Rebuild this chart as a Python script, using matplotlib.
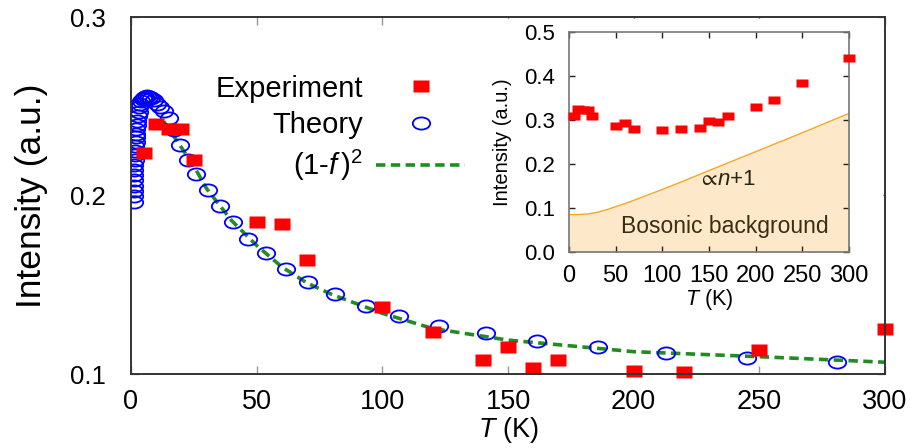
import numpy as np
import matplotlib
matplotlib.use("Agg")
import matplotlib.pyplot as plt
from matplotlib.path import Path
from matplotlib.patches import Rectangle

plt.rcParams['font.family'] = ['Liberation Sans', 'DejaVu Sans']
plt.rcParams['mathtext.fontset'] = 'custom'
plt.rcParams['mathtext.rm'] = 'Liberation Sans'
plt.rcParams['mathtext.it'] = 'Liberation Sans:italic'
plt.rcParams['mathtext.bf'] = 'Liberation Sans:bold'
plt.rcParams['mathtext.fallback'] = 'stixsans'

# ---------------- data ----------------
# Main panel: experiment (background subtracted)
exp_T = [5, 10, 15, 20, 25, 50, 60, 70, 100, 120, 140, 150, 160, 170, 200, 220, 250, 300]
exp_I = [0.224, 0.240, 0.237, 0.237, 0.220, 0.185, 0.184, 0.164, 0.1374, 0.1234,
         0.1077, 0.1153, 0.1032, 0.1078, 0.1019, 0.1013, 0.1134, 0.125]

# Main panel: theory
theory_T = [1.0, 1.05, 1.1, 1.15, 1.2, 1.25, 1.3, 1.35, 1.4, 1.5, 1.6, 1.7, 1.8, 1.9,
            2.0, 2.15, 2.3, 2.5, 2.7, 3.0, 3.3, 3.7, 4.1, 4.6, 5.1, 5.7, 6.4, 7.2,
            8.1, 9.1, 10.3, 11.6, 13.1, 15.0, 17.2, 19.6, 22.6, 26.0, 30.8, 35.4,
            40.5, 46.7, 53.6, 61.6, 70.6, 81.2, 93.4, 106.8, 122.7, 141.1, 161.7,
            186.0, 213.0, 245.0, 281.0]
theory_I = [0.1964, 0.1995, 0.2025, 0.2055, 0.2085, 0.2115, 0.2145, 0.2172, 0.2198,
            0.2225, 0.2252, 0.2278, 0.2302, 0.2325, 0.2347, 0.2372, 0.2395, 0.2420,
            0.2445, 0.2470, 0.2493, 0.2513, 0.2528, 0.2540, 0.2548, 0.2553, 0.2555,
            0.2553, 0.2547, 0.2535, 0.2515, 0.2495, 0.2472, 0.2435, 0.2365, 0.2285,
            0.2200, 0.2120, 0.2030, 0.1940, 0.1850, 0.1756, 0.1676, 0.1590, 0.1517,
            0.1446, 0.1380, 0.1325, 0.1270, 0.1228, 0.1187, 0.1150, 0.1120, 0.1091,
            0.1066]

# Main panel: (1-f)^2
f_T = [13, 15, 20, 25, 30, 40, 50, 60, 70, 80, 100, 120, 150, 200, 250, 300]
f_I = [0.2415, 0.2375, 0.227, 0.2165, 0.204, 0.186, 0.172, 0.160, 0.151, 0.1445,
       0.134, 0.1255, 0.119, 0.1125, 0.1097, 0.1066]

# Inset: raw intensity
inset_T = [5, 10, 15, 20, 25, 50, 60, 70, 100, 120, 140, 150, 160, 170, 200, 220, 250, 300]
inset_I = [0.310, 0.3245, 0.323, 0.323, 0.308, 0.287, 0.294, 0.280, 0.278, 0.280,
           0.282, 0.2985, 0.2956, 0.308, 0.330, 0.346, 0.385, 0.442]

# Inset: bosonic background  (proportional to n+1)
bg_T = [0, 10, 20, 30, 40, 50, 60, 70, 80, 100, 120, 150, 200, 250, 300]
bg_I = [0.085, 0.085, 0.0865, 0.090, 0.096, 0.103, 0.110, 0.118, 0.126, 0.142,
        0.159, 0.185, 0.228, 0.271, 0.315]

main_xticks = [0, 50, 100, 150, 200, 250, 300]
main_yticks = [0.1, 0.2, 0.3]
inset_xticks = [0, 50, 100, 150, 200, 250, 300]
inset_yticks = [0.0, 0.1, 0.2, 0.3, 0.4, 0.5]

# ---------------- markers ----------------
def rect_marker(aspect):
    return Path([(-1, -aspect), (1, -aspect), (1, aspect), (-1, aspect), (-1, -aspect)],
                [Path.MOVETO, Path.LINETO, Path.LINETO, Path.LINETO, Path.CLOSEPOLY])

def ellipse_marker(aspect):
    c = Path.unit_circle()
    v = c.vertices.copy()
    v[:, 1] *= aspect
    return Path(v, c.codes)

sq_main = rect_marker(0.70)
ell_main = ellipse_marker(0.70)
sq_inset = rect_marker(0.78)

W, H = 915, 448
fig = plt.figure(figsize=(W / 100, H / 100), dpi=100)

def fx(px):
    return px / W

def fy(py):
    return 1 - py / H

ax = fig.add_axes([fx(131), fy(374), fx(885) - fx(131), fy(17) - fy(374)])
ax.set_zorder(0)

ax.plot(f_T, f_I, color='#228B22', lw=2.6, dashes=(2.6, 1.5), zorder=1.8,
        label=r'(1-$f\,$)$^2$')
ax.plot(theory_T, theory_I, ls='none', marker=ell_main, markersize=12.5,
        markerfacecolor='none', markeredgecolor='#0000ff', markeredgewidth=1.3,
        zorder=1.9, label='Theory')
ax.plot(exp_T, exp_I, ls='none', marker=sq_main, markersize=12,
        markerfacecolor='#ff0000', markeredgecolor='none', zorder=2.0,
        clip_on=False, label='Experiment')

ax.set_xlim(0, 300)
ax.set_ylim(0.1, 0.3)
ax.set_xticks(main_xticks)
ax.set_yticks(main_yticks)
ax.set_yticklabels([f'{v:.1f}' for v in main_yticks])
ax.tick_params(axis='both', direction='in', length=6, width=1, color='#999999',
               top=True, right=True)
ax.tick_params(axis='x', labelsize=19.5, pad=11)
ax.tick_params(axis='y', labelsize=18.5, pad=18)
for s in ax.spines.values():
    s.set_color('#333333')
    s.set_linewidth(1.4)
ax.set_xlabel(r'$T$ (K)', fontsize=19.5, labelpad=0)
ax.set_ylabel('Intensity (a.u.)', fontsize=25.5, labelpad=16)

handles, labels = ax.get_legend_handles_labels()
order = [2, 1, 0]
leg = ax.legend([handles[i] for i in order], [labels[i] for i in order],
                loc='center right', bbox_to_anchor=(fx(466), fy(129)),
                bbox_transform=fig.transFigure, frameon=False, markerfirst=False,
                fontsize=21, handlelength=3.1, handletextpad=0.42,
                labelspacing=0.3, borderpad=0, borderaxespad=0, numpoints=1)
leg.set_zorder(2.05)

# white box behind the inset
box = Rectangle((fx(465), fy(312)), fx(883) - fx(465), fy(19) - fy(312),
                transform=fig.transFigure, facecolor='white', edgecolor='none',
                zorder=2.2)
ax.add_patch(box)
box.set_clip_on(False)

# ---------------- inset ----------------
ins = fig.add_axes([fx(569), fy(252), fx(849) - fx(569), fy(32) - fy(252)])
ins.set_zorder(3)
ins.fill_between(bg_T, 0, bg_I, color='#fde9c9', lw=0, zorder=1)
ins.plot(bg_T, bg_I, color='#f5a623', lw=1.0, zorder=1.5)
ins.plot(inset_T, inset_I, ls='none', marker=sq_inset, markersize=8.2,
         markerfacecolor='#ff0000', markeredgecolor='none', zorder=3, clip_on=False)
ins.set_xlim(0, 300)
ins.set_ylim(0, 0.5)
ins.set_xticks(inset_xticks)
ins.set_yticks(inset_yticks)
ins.set_yticklabels([f'{v:.1f}' for v in inset_yticks])
ins.tick_params(axis='both', direction='in', length=4, width=1, color='#222222',
                top=True, right=True)
ins.tick_params(axis='x', labelsize=17, pad=9)
ins.tick_params(axis='y', labelsize=16, pad=10)
for s in ins.spines.values():
    s.set_color('#777777')
    s.set_linewidth(1.2)
ins.set_xlabel(r'$T$ (K)', fontsize=15.5, labelpad=0)
ins.set_ylabel('Intensity (a.u.)', fontsize=14.5, labelpad=9)
ins.text(169, 0.164, r'$\propto\!n$+1', fontsize=16, color='#2b2410',
         ha='center', va='center')
ins.text(167, 0.057, 'Bosonic background', fontsize=16.5, color='#3b2c12',
         ha='center', va='center')

fig.savefig('out.png', dpi=100)
